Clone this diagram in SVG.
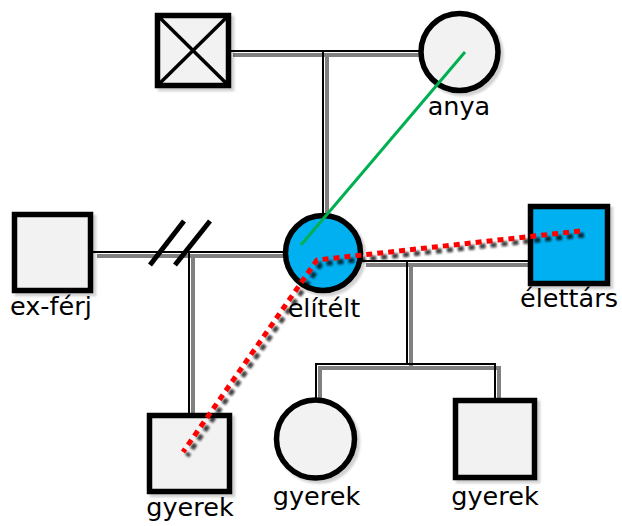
<svg xmlns="http://www.w3.org/2000/svg" xmlns:xlink="http://www.w3.org/1999/xlink" width="622" height="526" viewBox="0 0 622 526">
<style>
.node{stroke:#000;stroke-width:5.5;fill:#f2f2f2}
.blue{fill:#00b0f0}
.lbl{font-family:"DejaVu Sans",Verdana,sans-serif;font-size:25.5px;fill:#000;text-anchor:middle}
.cross{stroke:#000;stroke-width:3.5}
</style>
<defs>
<filter id="ns" x="-20%" y="-20%" width="150%" height="150%">
<feDropShadow dx="3" dy="3" stdDeviation="1" flood-color="#000" flood-opacity="0.18"/>
</filter>
<filter id="blur" x="-10%" y="-10%" width="120%" height="120%">
<feGaussianBlur stdDeviation="1.2"/>
</filter>
<g id="links" fill="none">
<path d="M229,51 H421"/>
<path d="M323,51 V214"/>
<path d="M93,252 H284"/>
<path d="M189,252 V414"/>
<path d="M362,261 H529"/>
<path d="M407,261 V364"/>
<path d="M316,399 V364 H495 V399"/>
</g>
</defs>
<g id="connectors">
<use xlink:href="#links" href="#links" transform="translate(4,4)" stroke="#808080" stroke-width="4"/>
<use xlink:href="#links" href="#links" stroke="#000" stroke-width="2"/>
<g id="divorce" stroke="#000" stroke-width="5">
<line x1="150" y1="265" x2="184" y2="221"/>
<line x1="175" y1="265" x2="210" y2="221"/>
</g>
</g>
<g id="father" filter="url(#ns)">
<rect class="node" x="157.5" y="15.5" width="71" height="70"/>
<line class="cross" x1="157.5" y1="15.5" x2="228.5" y2="85.5"/>
<line class="cross" x1="228.5" y1="15.5" x2="157.5" y2="85.5"/>
</g>
<g id="anya">
<circle class="node" cx="459.5" cy="52" r="38.5" filter="url(#ns)"/>
<text class="lbl" x="459" y="115">anya</text>
</g>
<g id="ex-ferj">
<rect class="node" x="14.5" y="214.5" width="76" height="76" filter="url(#ns)"/>
<text class="lbl" x="10" y="315" style="text-anchor:start">ex-férj</text>
</g>
<g id="elitelt">
<circle class="node blue" cx="323" cy="253" r="37.5" filter="url(#ns)"/>
<text class="lbl" x="324" y="317">elítélt</text>
</g>
<g id="elettars">
<rect class="node blue" x="530.5" y="206.5" width="77" height="77" filter="url(#ns)"/>
<text class="lbl" x="569" y="307">élettárs</text>
</g>
<g id="gyerek1">
<rect class="node" x="149.5" y="415.5" width="80" height="76" filter="url(#ns)"/>
<text class="lbl" x="190" y="516">gyerek</text>
</g>
<g id="gyerek2">
<circle class="node" cx="315.5" cy="439" r="39" filter="url(#ns)"/>
<text class="lbl" x="316.5" y="505">gyerek</text>
</g>
<g id="gyerek3">
<rect class="node" x="455.5" y="400.5" width="79" height="77" filter="url(#ns)"/>
<text class="lbl" x="495" y="505">gyerek</text>
</g>
<g id="relations" fill="none">
<line x1="465" y1="52" x2="301" y2="245" stroke="#00b050" stroke-width="3"/>
<path d="M580,231 L317,260 L183,452" stroke="#000" stroke-opacity="0.75" stroke-width="5" stroke-dasharray="6 5" transform="translate(4,4)" filter="url(#blur)"/>
<path d="M580,231 L317,260 L183,452" stroke="#ff0000" stroke-width="5" stroke-dasharray="6 5"/>
</g>
</svg>
